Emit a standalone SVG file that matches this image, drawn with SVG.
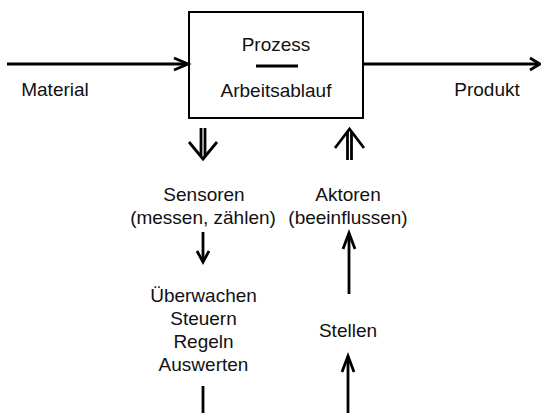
<svg xmlns="http://www.w3.org/2000/svg" width="541" height="413" viewBox="0 0 541 413">
<style>
text{font-family:"Liberation Sans",Arial,sans-serif;font-size:19px;fill:#111;text-anchor:middle}
.ln{stroke:#000;stroke-width:2.8;fill:none}
.hd{stroke:#000;stroke-width:2.8;fill:none;stroke-linejoin:miter}
</style>
<rect width="541" height="413" fill="#fff"/>
<g id="prozess">
<rect x="189" y="12" width="174" height="106" fill="#fff" stroke="#000" stroke-width="2"/>
<text x="276" y="51">Prozess</text>
<line x1="256" y1="66" x2="298" y2="66" class="ln"/>
<text x="276" y="97">Arbeitsablauf</text>
</g>
<g id="material"><text x="55" y="96">Material</text></g>
<g id="produkt"><text x="487" y="96">Produkt</text></g>
<g id="sensoren"><text x="204" y="201">Sensoren</text><text x="203" y="224">(messen, zählen)</text></g>
<g id="aktoren"><text x="348" y="201">Aktoren</text><text x="348" y="224">(beeinflussen)</text></g>
<g id="ueberwachen">
<text x="203.5" y="302">Überwachen</text>
<text x="203.5" y="325">Steuern</text>
<text x="203.5" y="348">Regeln</text>
<text x="203.5" y="371">Auswerten</text>
</g>
<g id="stellen"><text x="348" y="337">Stellen</text></g>
<g id="connectors">
<line x1="7" y1="64" x2="187" y2="64" class="ln"/>
<polyline points="174,58 188,64 174,70" class="hd"/>
<line x1="363" y1="64" x2="539" y2="64" class="ln"/>
<polyline points="530,58 540,64 530,70" class="hd"/>
<line x1="201" y1="128" x2="201" y2="156" class="ln" stroke-width="2.4"/>
<line x1="205" y1="128" x2="205" y2="156" class="ln" stroke-width="2.4"/>
<polyline points="189,142 203,159 217,142" class="hd"/>
<line x1="347.5" y1="132" x2="347.5" y2="160" class="ln" stroke-width="2.4"/>
<line x1="351.5" y1="132" x2="351.5" y2="160" class="ln" stroke-width="2.4"/>
<polyline points="335,148 349.5,129 364,148" class="hd"/>
<line x1="203" y1="232" x2="203" y2="261" class="ln"/>
<polyline points="197,251 203,262 209,251" class="hd"/>
<line x1="349" y1="234" x2="349" y2="294" class="ln"/>
<polyline points="343,249 349,233 355,249" class="hd"/>
<line x1="348" y1="357" x2="348" y2="413" class="ln"/>
<polyline points="342,372 348,356 354,372" class="hd"/>
<line x1="203" y1="386" x2="203" y2="413" class="ln"/>
</g>
</svg>
